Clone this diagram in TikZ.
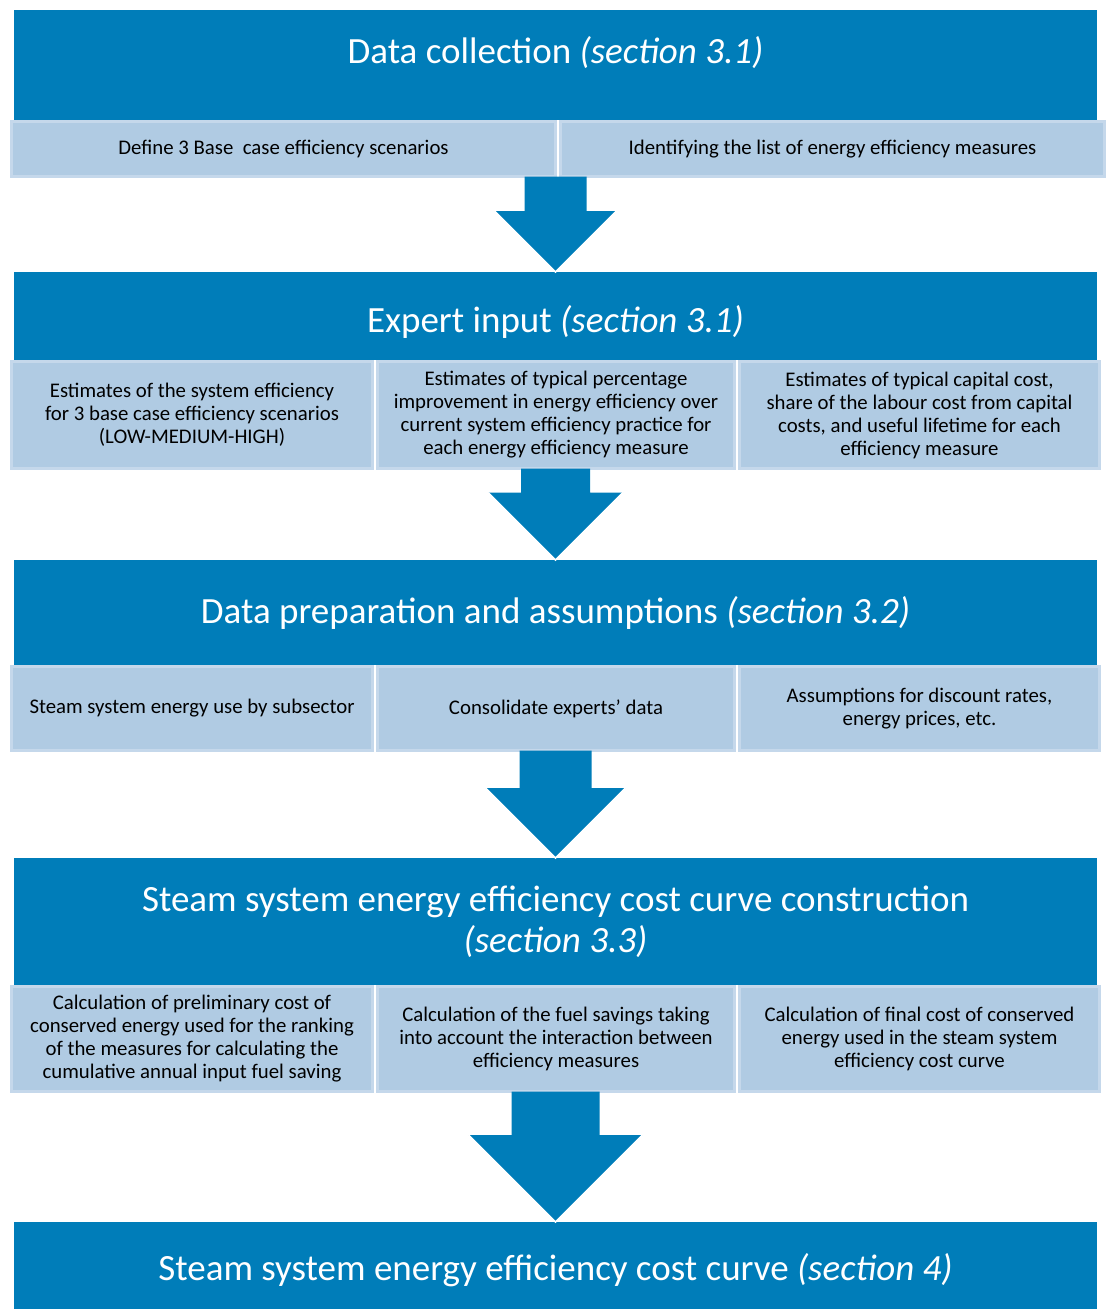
\documentclass[tikz,border=0pt]{standalone}
\usepackage{fontspec}
\setmainfont{Carlito}
\usetikzlibrary{calc}
\definecolor{flowblue}{RGB}{0,125,185}
\definecolor{boxfill}{RGB}{176,203,227}
\definecolor{boxedge}{RGB}{197,216,235}
\tikzset{
  stage/.style={fill=flowblue, text=white, inner sep=0pt, outer sep=0pt,
    minimum width=1083pt, align=center, font=\fontsize{37}{41}\selectfont},
  task/.style={fill=boxfill, draw=boxedge, line width=3pt, inner sep=0pt,
    outer sep=0pt, align=center, font=\fontsize{20.8}{23}\selectfont},
  bigarrow/.style={fill=flowblue},
  tipline/.style={draw=white, line width=1.5pt}
}
% block arrow from a task row down to the next stage
\newcommand{\flowarrow}[4]{%
  \fill[bigarrow] let \p1=(#1.south), \p2=(#2.north) in
    ({\x2-#3},\y1) -- ({\x2-#3},{\y2+#4}) -- ({\x2-#4},{\y2+#4}) -- (\x2,\y2)
    -- ({\x2+#4},{\y2+#4}) -- ({\x2+#3},{\y2+#4}) -- ({\x2+#3},\y1) -- cycle;
  \draw[tipline] let \p2=(#2.north) in
    ({\x2-#4},{\y2+#4}) -- (\x2,\y2) -- ({\x2+#4},{\y2+#4});}
\begin{document}
\begin{tikzpicture}[x=1pt,y=-1pt]
\useasboundingbox (0,0) rectangle (1108,1309);
% stages
\node[stage, minimum height=110pt, text height=28pt, text depth=30.5pt] (collect) at (555.5,65)
  {Data collection \textit{(section 3.1)}};
\node[stage, minimum height=88pt, text height=34pt, text depth=2pt] (expert) at (555.5,316)
  {Expert input \textit{(section 3.1)}};
\node[stage, minimum height=105pt] (prep) at (555.5,612.5)
  {Data preparation and assumptions \textit{(section 3.2)}};
\node[stage, minimum height=127pt] (build) at (555.5,921.5)
  {Steam system energy efficiency cost curve construction\\\textit{(section 3.3)}};
\node[stage, minimum height=87pt, text height=30pt, text depth=1pt] (curve) at (555.5,1265.5)
  {Steam system energy efficiency cost curve \textit{(section 4)}};
% data collection tasks
\node[task, minimum width=544pt, minimum height=55pt] (scen) at (283.5,149)
  {Define 3 Base\ \ case efficiency scenarios};
\node[task, minimum width=544pt, minimum height=55pt] (list) at (832.5,149)
  {Identifying the list of energy efficiency measures};
% expert input tasks
\node[task, minimum width=361pt, minimum height=107pt] (sysest) at (192,415)
  {Estimates of the system efficiency\\for 3 base case efficiency scenarios\\(LOW-MEDIUM-HIGH)};
\node[task, minimum width=357pt, minimum height=107pt] (improve) at (556,415)
  {Estimates of typical percentage\\improvement in energy efficiency over\\current system efficiency practice for\\each energy efficiency measure};
\node[task, minimum width=360pt, minimum height=107pt] (capcost) at (919.5,415)
  {Estimates of typical capital cost,\\share of the labour cost from capital\\costs, and useful lifetime for each\\efficiency measure};
% data preparation tasks
\node[task, minimum width=361pt, minimum height=84pt] (use) at (192,708.5)
  {Steam system energy use by subsector};
\node[task, minimum width=357pt, minimum height=84pt] (consol) at (556,708.5)
  {Consolidate experts’ data};
\node[task, minimum width=360pt, minimum height=84pt] (assume) at (919.5,708.5)
  {Assumptions for discount rates,\\energy prices, etc.};
% cost curve construction tasks
\node[task, minimum width=361pt, minimum height=105pt] (prelim) at (192,1039)
  {Calculation of preliminary cost of\\conserved energy used for the ranking\\of the measures for calculating the\\cumulative annual input fuel saving};
\node[task, minimum width=357pt, minimum height=105pt] (fuel) at (556,1039)
  {Calculation of the fuel savings taking\\into account the interaction between\\efficiency measures};
\node[task, minimum width=360pt, minimum height=105pt] (final) at (919.5,1039)
  {Calculation of final cost of conserved\\energy used in the steam system\\efficiency cost curve};
% arrows
\flowarrow{scen}{expert}{31pt}{61pt}
\flowarrow{improve}{prep}{34.5pt}{67.5pt}
\flowarrow{consol}{build}{36pt}{70pt}
\flowarrow{fuel}{curve}{44pt}{87pt}
\end{tikzpicture}
\end{document}
